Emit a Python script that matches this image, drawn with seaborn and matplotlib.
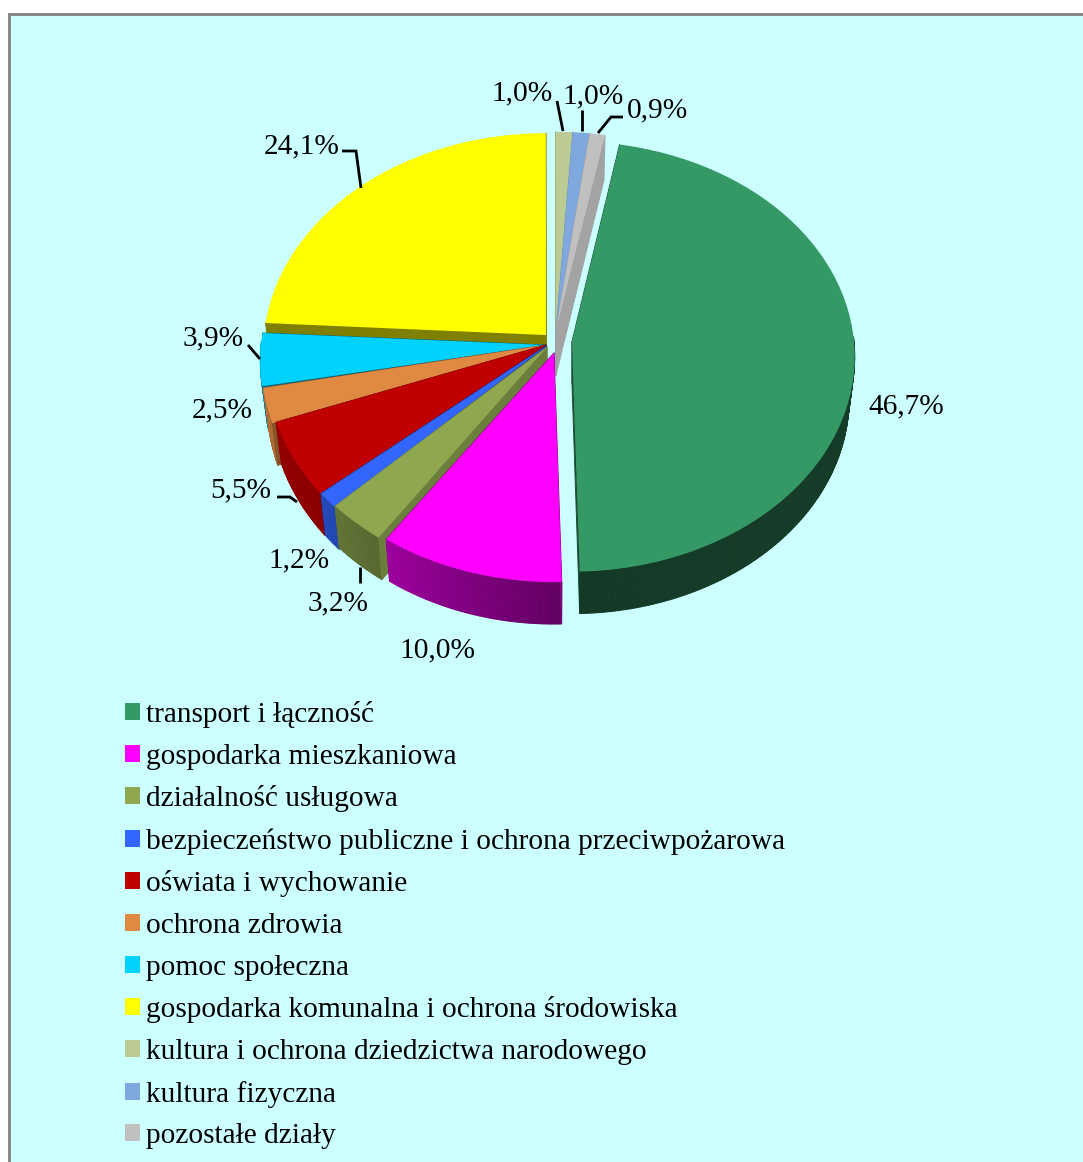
import numpy as np
import matplotlib
matplotlib.use("Agg")
import matplotlib.pyplot as plt
import seaborn as sns
from matplotlib.collections import PolyCollection
from matplotlib.patches import Rectangle
from matplotlib.transforms import Transform

# ---- data ----
categories = ["transport i łączność", "gospodarka mieszkaniowa", "działalność usługowa",
              "bezpieczeństwo publiczne i ochrona przeciwpożarowa", "oświata i wychowanie",
              "ochrona zdrowia", "pomoc społeczna",
              "gospodarka komunalna i ochrona środowiska",
              "kultura i ochrona dziedzictwa narodowego", "kultura fizyczna", "pozostałe działy"]
values = [46.7, 10.0, 3.2, 1.2, 5.5, 2.5, 3.9, 24.1, 1.0, 1.0, 0.9]
value_labels = ["46,7%", "10,0%", "3,2%", "1,2%", "5,5%", "2,5%", "3,9%", "24,1%", "1,0%", "1,0%", "0,9%"]

# ---- style / layout ----
colors = sns.color_palette(["#359966", "#FF00FF", "#8FA850", "#3366FF", "#C00000", "#E08942",
                            "#00D2FF", "#FFFF00", "#BCCB93", "#7FA9DE", "#C0C0C0"])
W, H = 1083, 1162
apex_x = [572, 554, 547, 546, 546, 546, 546, 546, 556, 556, 556]
apex_y = [341.5, 353, 347, 346, 345, 345, 345, 335, 330, 330, 330]
rad_x = [282, 279, 280, 279, 280, 284, 285, 282, 290, 290, 290]
rad_y = [214, 213, 218, 221, 222, 225, 216, 216, 212, 212, 212]
depth = [42, 42, 42, 42, 42, 42, 42, 42, 45, 45, 45]
side_shade = [.5, .5, .75, .6, .6, .6, .5, .5, .85, .85, .85]
draw_order = [8, 9, 10, 7, 6, 5, 4, 3, 2, 1, 0]
persp = 0.07
label_xy = [(906, 406), (437, 650), (338, 603), (299, 560), (241, 490), (222, 410),
            (213, 338), (302, 146), (522, 93), (593, 96), (657, 110)]
leaders = [[(342, 151), (356, 151), (361, 188)],
           [(248, 345), (260, 359)],
           [(277, 497), (290, 497), (297, 502)],
           [(360, 567), (360, 583)],
           [(557, 101), (563, 131)],
           [(582, 110), (582, 131)],
           [(623, 117), (611, 117), (598, 133)]]

sns.set_theme(style="white")
plt.rcParams["font.family"] = ["Liberation Serif", "DejaVu Serif"]


class Persp(Transform):
    input_dims = 2
    output_dims = 2
    is_separable = False
    has_inverse = False

    def __init__(self, cx, cy, rx, ry):
        super().__init__()
        self.p = (cx, cy, rx, ry)

    def transform_non_affine(self, xy):
        xy = np.asarray(xy, float)
        cx, cy, rx, ry = self.p
        w = 1 + persp * xy[:, 1]
        return np.column_stack([cx + rx * xy[:, 0] / w, cy - ry * xy[:, 1] / w])


def shade(theta):
    return np.interp(np.mod(theta, 360), [0, 170, 190, 220, 235, 272, 360],
                     [.40, .85, .80, .72, .62, .38, .40])


fig = plt.figure(figsize=(W / 100, H / 100), dpi=100, facecolor="white")
ax = fig.add_axes([0, 0, 1, 1])
wedges, _ = ax.pie(values, colors=colors, startangle=79.6, counterclock=False,
                   radius=1, wedgeprops=dict(linewidth=0))
ax.set_aspect("auto")
ax.set_xlim(0, W)
ax.set_ylim(H, 0)
ax.axis("off")

ax.add_patch(Rectangle((9, 14), 2000, 2000, facecolor="#CCFFFF", edgecolor="#808080",
                       linewidth=2.0, zorder=0))

for rank, i in enumerate(draw_order):
    w = wedges[i]
    T = Persp(apex_x[i], apex_y[i], rad_x[i], rad_y[i])
    w.set_transform(T + ax.transData)
    w.set_clip_on(False)
    z = 2 + rank
    w.set_zorder(z + .5)
    th = np.linspace(w.theta1, w.theta2, 2 * max(3, int(w.theta2 - w.theta1) + 2))
    rim = T.transform_non_affine(np.column_stack([np.cos(np.radians(th)), np.sin(np.radians(th))]))
    low = np.column_stack([apex_x[i] + (rim[:, 0] - apex_x[i]) * .98, rim[:, 1] + depth[i]])
    base = np.array(colors[i])
    apex = np.array([apex_x[i], apex_y[i]], float)
    apex_low = apex + [0, depth[i]]
    side = tuple(base * side_shade[i])
    # lower-angle radial face, then the visible part of the outer rim, then the higher-angle radial face
    polys = [[apex, rim[0], low[0], apex_low]]
    cols = [side]
    for k in range(len(th) - 1):
        mid = .5 * (th[k] + th[k + 1])
        if np.sin(np.radians(mid)) < .02:
            polys.append([rim[k], rim[k + 1], low[k + 1], low[k]])
            cols.append(tuple(base * shade(mid)))
    polys.append([apex, rim[-1], low[-1], apex_low])
    cols.append(side)
    ax.add_collection(PolyCollection(polys, facecolors=cols, edgecolors=cols, linewidths=.7, zorder=z))

for txt, (x, y) in zip(value_labels, label_xy):
    ax.text(x, y, txt, ha="center", va="center", fontsize=21.2, color="black", zorder=30)
for pts in leaders:
    ax.plot(*zip(*pts), color="black", lw=2.0, solid_capstyle="butt", solid_joinstyle="miter", zorder=30)

ax.legend(wedges, categories, loc="upper left", bbox_to_anchor=(125, 701), bbox_transform=ax.transData,
          frameon=False, fontsize=21.13, handlelength=.52, handleheight=.52, handletextpad=.2,
          labelspacing=.534, borderpad=0, borderaxespad=0, labelcolor="black").set_zorder(30)

fig.savefig("out.png", dpi=100, facecolor="white")
